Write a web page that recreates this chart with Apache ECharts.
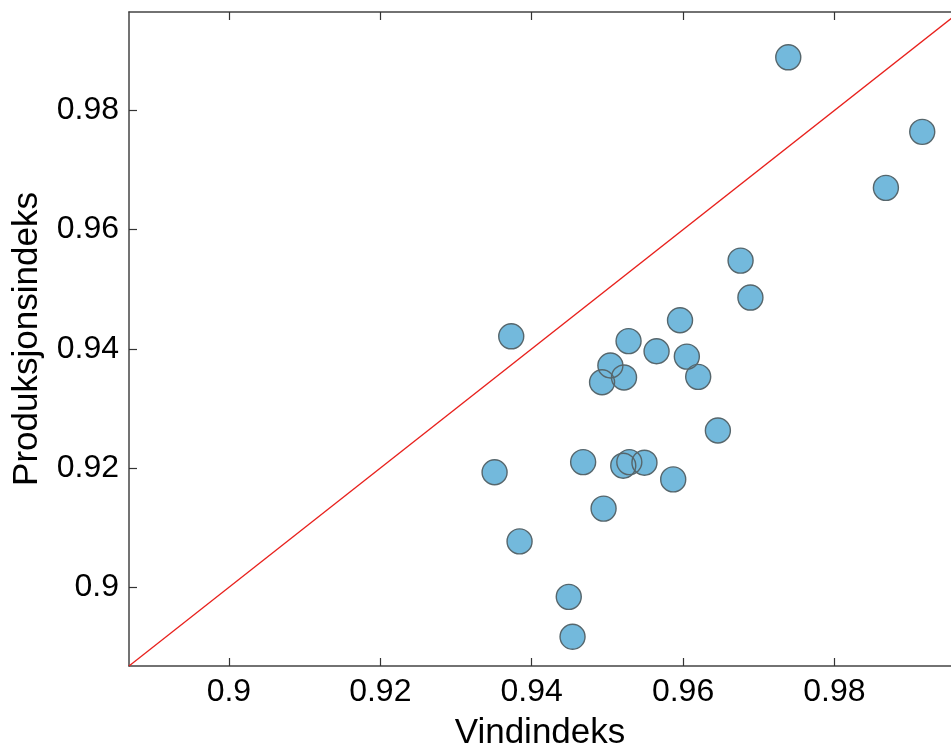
<!DOCTYPE html>
<html>
<head>
<meta charset="utf-8">
<script src="https://cdn.jsdelivr.net/npm/echarts@6/dist/echarts.min.js"></script>
<style>
  html, body { margin: 0; padding: 0; background: #fff; overflow: hidden; }
  #chart { width: 951px; height: 745px; }
</style>
</head>
<body>
<div id="chart"></div>
<script>
// Vindindeks (x) / Produksjonsindeks (y)
var vindindeks = [0.9739, 0.9916, 0.9868, 0.9676, 0.9689, 0.9373, 0.9596, 0.9528, 0.9565,
    0.9504, 0.9605, 0.9493, 0.9522, 0.9620, 0.9646, 0.9351, 0.9468, 0.9521, 0.9529, 0.9549,
    0.9587, 0.9495, 0.9384, 0.9449, 0.9454];
var produksjonsindeks = [0.9889, 0.9764, 0.9670, 0.9548, 0.9486, 0.9421, 0.9448, 0.9413, 0.9396,
    0.9372, 0.9387, 0.9344, 0.9352, 0.9353, 0.9263, 0.9193, 0.9210, 0.9204, 0.9210, 0.9209,
    0.9181, 0.9132, 0.9077, 0.8984, 0.8917];
var tickValues = [0.9, 0.92, 0.94, 0.96, 0.98];
var xMin = 0.8868, xMax = 0.9954; // picture is cut on the right
var yMin = 0.8868, yMax = 0.9965;
var refLine = [[xMin, xMin], [yMax, yMax]]; // y = x

var points = [];
for (var i = 0; i < vindindeks.length; i++) {
    points.push([vindindeks[i], produksjonsindeks[i]]);
}

var font = 'Liberation Sans, Arial, sans-serif';
var frameColor = '#444';

function tickAxis(min, max, extra) {
    var ax = {
        type: 'value',
        min: min,
        max: max,
        splitLine: { show: false },
        axisLine: { show: true, onZero: false, lineStyle: { color: frameColor, width: 1.5 } },
        axisTick: { show: true, inside: true, length: 8, customValues: tickValues,
            lineStyle: { color: '#333', width: 1.2 } },
        axisLabel: { show: false }
    };
    for (var k in extra) ax[k] = extra[k];
    return ax;
}

var option = {
    animation: false,
    backgroundColor: '#fff',
    grid: { left: 129, top: 12, right: 0, bottom: 79, outerBoundsMode: 'none', containLabel: false },
    xAxis: [
        tickAxis(xMin, xMax, {
            position: 'bottom',
            name: 'Vindindeks',
            nameLocation: 'middle',
            nameGap: 50,
            nameTextStyle: { color: '#000', fontSize: 35, fontFamily: font },
            axisLabel: { show: true, customValues: tickValues, margin: 10,
                color: '#000', fontSize: 32, fontFamily: font }
        }),
        tickAxis(xMin, xMax, { position: 'top' })
    ],
    yAxis: [
        tickAxis(yMin, yMax, {
            position: 'left',
            name: 'Produksjonsindeks',
            nameLocation: 'middle',
            nameGap: 84,
            nameTextStyle: { color: '#000', fontSize: 35, fontFamily: font },
            axisLabel: { show: true, customValues: tickValues, margin: 10,
                color: '#000', fontSize: 32, fontFamily: font }
        })
    ],
    series: [
        {
            type: 'line',
            data: refLine,
            symbol: 'none',
            silent: true,
            lineStyle: { color: '#e8201c', width: 1.3 },
            z: 1
        },
        {   // filled markers
            type: 'scatter',
            data: points,
            symbolSize: 25,
            itemStyle: { color: '#73b9dc', opacity: 1, borderWidth: 0 },
            z: 2
        },
        {   // outlines on top, so overlapping rings stay visible
            type: 'scatter',
            data: points,
            symbolSize: 25,
            silent: true,
            itemStyle: { color: 'rgba(0,0,0,0)', borderColor: '#56666c', borderWidth: 1.4, opacity: 1 },
            z: 3
        }
    ]
};

var chart = echarts.init(document.getElementById('chart'));
chart.setOption(option);
</script>
</body>
</html>
